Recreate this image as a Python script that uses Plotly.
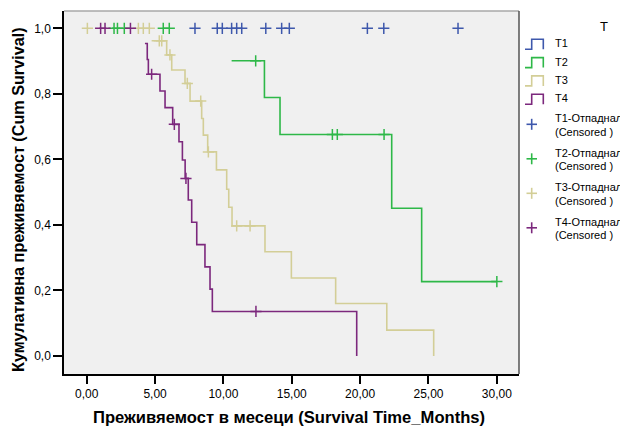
import plotly.graph_objects as go

# ---------------- data ----------------
T2_time = [10.6, 13.0, 14.14, 22.31, 24.5, 30.0]
T2_surv = [0.901, 0.789, 0.676, 0.451, 0.227, 0.227]

T3_time = [4.75, 5.85, 6.22, 7.19, 7.56, 8.41, 8.53, 8.85, 9.49, 10.24, 10.39,
           10.63, 13.04, 14.97, 18.21, 21.95, 25.38]
T3_surv = [0.962, 0.919, 0.873, 0.832, 0.778, 0.725, 0.674, 0.623, 0.568, 0.509,
           0.454, 0.397, 0.318, 0.238, 0.160, 0.079, 0.0]

T4_time = [4.26, 4.43, 4.51, 5.36, 5.73, 6.29, 6.75, 7.0, 7.2, 7.43, 7.68, 8.05,
           8.65, 9.02, 9.19, 19.75]
T4_surv = [0.954, 0.905, 0.860, 0.809, 0.758, 0.707, 0.654, 0.598, 0.542, 0.476,
           0.408, 0.340, 0.272, 0.204, 0.136, 0.0]

T1_cens_time = [7.92, 9.55, 9.92, 10.6, 10.97, 11.34, 13.1, 14.26, 14.82, 20.53, 21.73, 27.16]
T1_cens_surv = [1.0] * 12

T2_cens_time = [2.0, 2.25, 2.75, 5.6, 6.04, 12.36, 17.97, 18.33, 21.75, 30.0]
T2_cens_surv = [1.0, 1.0, 1.0, 1.0, 1.0, 0.901, 0.676, 0.676, 0.676, 0.227]

T3_cens_time = [0.05, 3.78, 4.14, 4.58, 5.31, 5.49, 6.09, 7.36, 8.34, 8.9, 10.97, 11.95]
T3_cens_surv = [1.0, 1.0, 1.0, 1.0, 0.962, 0.962, 0.919, 0.832, 0.778, 0.623, 0.397, 0.397]

T4_cens_time = [1.02, 1.34, 3.2, 4.75, 6.41, 7.26, 12.38]
T4_cens_surv = [1.0, 1.0, 1.0, 0.860, 0.707, 0.542, 0.136]

group_names = ["T1", "T2", "T3", "T4"]
censored_label = "-Отпаднал"
censored_sub = "(Censored )"
x_ticks = [0, 5, 10, 15, 20, 25, 30]
y_ticks = [0.0, 0.2, 0.4, 0.6, 0.8, 1.0]

colors = {"T1": "#3E58AC", "T2": "#2EB848", "T3": "#D3CE97", "T4": "#7C287D"}

FONT = "Liberation Sans, Arial, sans-serif"

fig = go.Figure()

curves = {"T2": (T2_time, T2_surv), "T3": (T3_time, T3_surv), "T4": (T4_time, T4_surv)}
for g in ["T3", "T2", "T4"]:
    t, s = curves[g]
    fig.add_trace(go.Scatter(x=t, y=s, mode="lines", line=dict(color=colors[g], width=1.6, shape="hv"),
                             showlegend=False, hoverinfo="skip"))

cens = {"T1": (T1_cens_time, T1_cens_surv), "T2": (T2_cens_time, T2_cens_surv),
        "T3": (T3_cens_time, T3_cens_surv), "T4": (T4_cens_time, T4_cens_surv)}
for g in ["T3", "T2", "T4", "T1"]:
    t, s = cens[g]
    fig.add_trace(go.Scatter(x=t, y=s, mode="markers",
                             marker=dict(symbol="cross-thin", size=8, line=dict(color=colors[g], width=1.5)),
                             showlegend=False, hoverinfo="skip", cliponaxis=False))

# ---------- layout geometry (page pixel coordinates) ----------
W, H = 628, 427
OFF = 8  # default page body margin
L, R, T, B = 64, 519, 11, 374


def px(xp):
    return (xp - L) / (R - L)


def py(yp):
    return (B - yp) / (B - T)


shapes = []
annotations = []

# frame
shapes.append(dict(type="line", xref="paper", yref="paper", x0=0, x1=1, y0=1, y1=1,
                   line=dict(color="#A8A8A8", width=1.5)))
shapes.append(dict(type="line", xref="paper", yref="paper", x0=1, x1=1, y0=0, y1=1,
                   line=dict(color="#555555", width=1.5)))

LEG_FS = 11
# legend
annotations.append(dict(text="T", xref="paper", yref="paper", x=px(604), y=py(26.7),
                        showarrow=False, xanchor="center", yanchor="middle",
                        font=dict(family=FONT, size=13, color="#000")))
for i, g in enumerate(group_names):
    yc = 43.3 + i * 18.3
    path = "M {} {} L {} {} L {} {} L {} {} L {} {}".format(
        px(525), py(yc + 6), px(531.7), py(yc + 6), px(531.7), py(yc - 4),
        px(543.3), py(yc - 4), px(543.3), py(yc + 6))
    shapes.append(dict(type="path", xref="paper", yref="paper", path=path,
                       line=dict(color=colors[g], width=1.6)))
    annotations.append(dict(text=g, xref="paper", yref="paper", x=px(552.5), y=py(yc),
                            showarrow=False, xanchor="left", yanchor="middle",
                            font=dict(family=FONT, size=LEG_FS, color="#000")))

for i, g in enumerate(group_names):
    ytop = 118.3 + i * 34.5
    ymark = ytop + 6
    shapes.append(dict(type="line", xref="paper", yref="paper", x0=px(526.5), x1=px(537),
                       y0=py(ymark), y1=py(ymark), line=dict(color=colors[g], width=1.6)))
    shapes.append(dict(type="line", xref="paper", yref="paper", x0=px(531.7), x1=px(531.7),
                       y0=py(ymark - 5.5), y1=py(ymark + 5.5), line=dict(color=colors[g], width=1.6)))
    annotations.append(dict(text=g + censored_label, xref="paper", yref="paper", x=px(552.5), y=py(ytop),
                            showarrow=False, xanchor="left", yanchor="middle",
                            font=dict(family=FONT, size=LEG_FS, color="#000")))
    annotations.append(dict(text=censored_sub, xref="paper", yref="paper", x=px(552.5), y=py(ytop + 13.5),
                            showarrow=False, xanchor="left", yanchor="middle",
                            font=dict(family=FONT, size=LEG_FS, color="#000")))

# axis titles
annotations.append(dict(text="<b>Преживяемост в месеци (Survival Time_Months)</b>", xref="paper", yref="paper",
                        x=px(289), y=py(418), showarrow=False, xanchor="center", yanchor="middle",
                        font=dict(family=FONT, size=16.6, color="#000")))
annotations.append(dict(text="<b>Кумулативна преживяемост (Cum Survival)</b>", xref="paper", yref="paper",
                        x=px(18), y=py(200), showarrow=False, xanchor="center", yanchor="middle",
                        textangle=-90, font=dict(family=FONT, size=16.2, color="#000")))

fig.update_layout(
    width=W - OFF, height=H - OFF,
    margin=dict(l=L - OFF, r=W - R, t=T - OFF, b=H - B, pad=0),
    paper_bgcolor="#FFFFFF", plot_bgcolor="#F0F0F0",
    separators=",.",
    showlegend=False,
    shapes=shapes, annotations=annotations,
    font=dict(family=FONT, size=12, color="#000"),
)
fig.update_xaxes(range=[-1.66, 31.62], tickvals=x_ticks, tickformat=".2f", showgrid=False, zeroline=False,
                 showline=True, linecolor="#000", linewidth=1.5, ticks="outside", ticklen=8, tickwidth=1.5,
                 tickcolor="#000", tickfont=dict(family=FONT, size=12, color="#000"))
fig.update_yaxes(range=[-0.055, 1.053], tickvals=y_ticks, tickformat=".1f", showgrid=False, zeroline=False,
                 showline=True, linecolor="#000", linewidth=1.5, ticks="outside", ticklen=9, tickwidth=1.5,
                 tickcolor="#000", tickfont=dict(family=FONT, size=12, color="#000"))

fig.write_html("out.html", config={"displayModeBar": False})
